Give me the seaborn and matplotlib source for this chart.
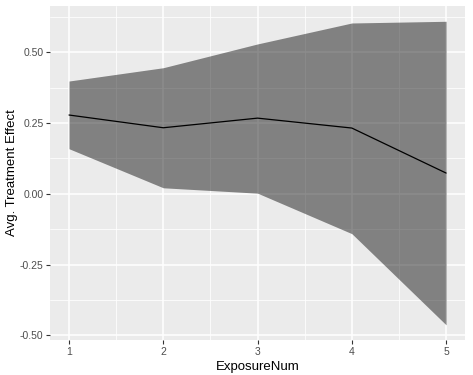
import numpy as np
import pandas as pd
import matplotlib
matplotlib.use("Agg")
import matplotlib.pyplot as plt
import matplotlib.ticker as ticker
import seaborn as sns

exposure = [1, 2, 3, 4, 5]
effect = [0.278, 0.233, 0.267, 0.232, 0.073]
lower = [0.159, 0.021, 0.002, -0.141, -0.463]
upper = [0.398, 0.445, 0.529, 0.603, 0.609]

df = pd.DataFrame({"ExposureNum": exposure, "effect": effect,
                   "lower": lower, "upper": upper})

sns.set_theme(style="darkgrid", rc={
    "axes.facecolor": "#EBEBEB",
    "grid.color": "white",
    "axes.edgecolor": "#EBEBEB",
})
plt.rcParams["font.family"] = ["Liberation Sans", "DejaVu Sans"]

fig = plt.figure(figsize=(4.73, 3.75), dpi=100)
ax = fig.add_axes([0.106, 0.093, 0.877, 0.891])

# confidence ribbon + mean line
ax.fill_between(df["ExposureNum"], df["lower"], df["upper"],
                color="black", alpha=0.45, linewidth=0, zorder=2)
sns.lineplot(data=df, x="ExposureNum", y="effect", color="black",
             linewidth=0.9, ax=ax, zorder=3)

ax.set_xlim(0.8, 5.2)
ax.set_ylim(-0.517, 0.663)
ax.xaxis.set_major_locator(ticker.FixedLocator([1, 2, 3, 4, 5]))
ax.xaxis.set_minor_locator(ticker.FixedLocator([1.5, 2.5, 3.5, 4.5]))
ax.yaxis.set_major_locator(ticker.FixedLocator([-0.5, -0.25, 0, 0.25, 0.5]))
ax.yaxis.set_minor_locator(ticker.FixedLocator([-0.375, -0.125, 0.125, 0.375, 0.625]))
ax.yaxis.set_major_formatter(ticker.FuncFormatter(lambda v, p: f"{v:.2f}"))

ax.grid(which="major", color="white", linewidth=1.1)
ax.grid(which="minor", color="white", linewidth=0.55)
ax.set_axisbelow(True)
for s in ax.spines.values():
    s.set_visible(False)

ax.tick_params(axis="both", which="major", length=2.8, width=0.8, color="#333333",
               labelsize=7.5, labelcolor="#4D4D4D", pad=2, bottom=True, left=True)
ax.tick_params(axis="both", which="minor", length=0)

ax.set_xlabel("ExposureNum", fontsize=9.5, color="black", labelpad=3)
ax.set_ylabel("Avg. Treatment Effect", fontsize=9.5, color="black", labelpad=1)

fig.savefig("out.png", dpi=100)
plt.close(fig)
